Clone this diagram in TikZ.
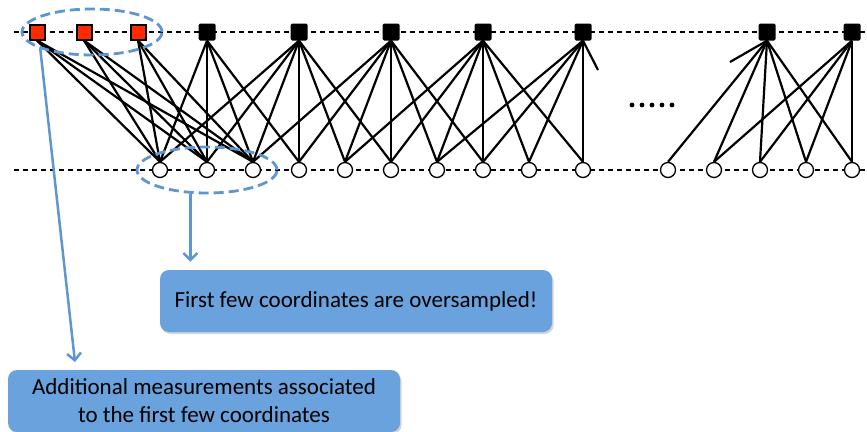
\documentclass[tikz,border=0pt]{standalone}
\usepackage{fontspec}
\setmainfont{Carlito}
\usetikzlibrary{shapes.geometric,arrows.meta,shadows}
\definecolor{notefill}{HTML}{6AA2DD}
\definecolor{noteline}{HTML}{5D96D0}
\definecolor{extrared}{HTML}{FF2A00}
\tikzstyle{varnode} = [draw=black, fill=white, circle, line width=1.3pt,
    minimum size=15pt, inner sep=0pt]
\tikzstyle{checknode} = [fill=black, rectangle, rounded corners=1.5pt,
    minimum size=17pt, inner sep=0pt]
\tikzstyle{extranode} = [draw=black, fill=extrared, rectangle, line width=2pt,
    minimum size=15pt, inner sep=0pt]
\tikzstyle{link} = [line width=2.2pt]
\tikzstyle{rowline} = [line width=1.3pt, dash pattern=on 5pt off 4pt]
\tikzstyle{groupring} = [draw=noteline, ellipse, line width=2.8pt, dash pattern=on 10pt off 5pt,
    inner sep=0pt, minimum width=140pt, minimum height=46pt]
\tikzstyle{pointer} = [draw=noteline, line width=2.5pt, -{Straight Barb[length=7pt,width=14pt]}]
\tikzstyle{notebox} = [fill=notefill, rectangle, rounded corners=9pt, minimum width=392pt,
    minimum height=62pt, align=center, font=\fontsize{23}{28}\selectfont,
    drop shadow={shadow xshift=1.5pt, shadow yshift=-2pt, opacity=0.35}]
\begin{document}
\begin{tikzpicture}[x=1pt, y=-1pt]
                \useasboundingbox (0,0) rectangle (867,431);
                \coordinate (topL) at (14,32);
                \coordinate (topR) at (867,32);
                \coordinate (botL) at (14,170);
                \coordinate (botR) at (867,170);
                \draw[rowline] (topL) -- (topR);
                \draw[rowline] (botL) -- (botR);
                % coordinates (circles) and checks (squares)
                \foreach \x [count=\i] in {160,207,253,299,345,391,437,483,529,583,668,714,760,806,852}
                    \node[varnode] (c\i) at (\x,170) {};
                \foreach \x [count=\i] in {37,84,138}
                    \node[extranode] (r\i) at (\x,32) {};
                \foreach \x [count=\i] in {207,299,391,483,583,767,852}
                    \node[checknode] (b\i) at (\x,32) {};
                \foreach \s/\tl in {r1/{1,2,3}, r2/{1,2,3}, r3/{1,2,3}, b1/{1,2,3,4},
                        b2/{1,2,3,4,5,6}, b3/{3,4,5,6,7,8}, b4/{5,6,7,8,9,10},
                        b5/{7,8,9,10}, b6/{11,12,13,14,15}, b7/{12,13,14,15}}
                    \foreach \t in \tl
                        \draw[link] (\s.south) -- (c\t.north);
                \coordinate (stubA) at (598,70);
                \coordinate (stubB) at (730,62);
                \draw[link] (b5.south) -- (stubA);
                \draw[link] (b6.south) -- (stubB);
                \foreach \d in {0,...,4}
                    \fill (632+10*\d,105) circle (2.4pt);
                % groups and notes
                \node[groupring] (redE) at (92,32) {};
                \node[groupring] (osE) at (207,170) {};
                \node[notebox] (fewBox) at (356,301) {First few coordinates are oversampled!};
                \node[notebox] (addBox) at (204,401) {Additional measurements associated\\to the first few coordinates};
                \coordinate (addTip) at (75,362);
                \draw[pointer] (osE.-125) -- (osE.-125 |- fewBox.north) [shorten >=8pt];
                \draw[pointer] (redE.-162) -- (addTip);
            \end{tikzpicture}
\end{document}
